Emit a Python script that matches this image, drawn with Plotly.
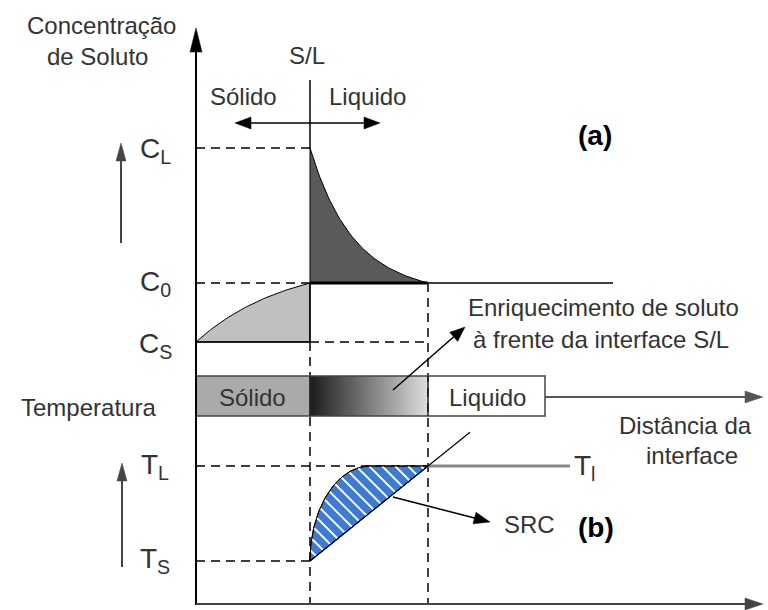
import numpy as np
import plotly.graph_objects as go

# ---- diagram values (pixel-like units, y grows downward) ----
x_axis = 196          # position of ordinate
x_interface = 310     # S/L interface
x_boundary = 428      # end of solute-enriched zone
x_end = 763           # tip of abscissa arrows

C_L = 148             # liquid concentration at interface
C_0 = 283             # nominal concentration
C_S = 342             # solid concentration
T_L = 466             # liquidus temperature
T_S = 561             # solidus temperature
y_bottom = 604        # abscissa position
bar_top, bar_bottom, bar_right = 376, 416, 545
x_flat_start = 370    # where the real temperature curve reaches T_L

FONT = "Liberation Sans, Arial, sans-serif"
TXT = "#333333"
FS = 24

fig = go.Figure()


def line(xs, ys, color="black", width=1.5, dash=None):
    fig.add_trace(go.Scatter(x=xs, y=ys, mode="lines",
                             line=dict(color=color, width=width, dash=dash),
                             hoverinfo="skip", showlegend=False))


def poly(xs, ys, fill, lc="black", lw=1.0):
    fig.add_trace(go.Scatter(x=list(xs) + [xs[0]], y=list(ys) + [ys[0]], mode="lines",
                             fill="toself", fillcolor=fill,
                             line=dict(color=lc, width=lw),
                             hoverinfo="skip", showlegend=False))


def head(tip, base, color="black", L=14, W=6):
    tx, ty = tip
    bx, by = base
    d = np.array([tx - bx, ty - by], float)
    d /= np.hypot(*d)
    n = np.array([-d[1], d[0]])
    b = np.array([tx, ty]) - d * L
    p1 = b + n * W
    p2 = b - n * W
    poly([tx, p1[0], p2[0]], [ty, p1[1], p2[1]], color, lc=color, lw=0.5)


def arrow(start, tip, color="black", width=1.5, L=14, W=6):
    sx, sy = start
    tx, ty = tip
    d = np.array([tx - sx, ty - sy], float)
    d /= np.hypot(*d)
    ex, ey = np.array([tx, ty]) - d * (L - 2)
    line([sx, ex], [sy, ey], color, width)
    head(tip, start, color, L, W)


def text(x, y, s, size=FS, anchor="center", bold=False, color=TXT):
    fig.add_annotation(x=x, y=y, text=("<b>%s</b>" % s) if bold else s,
                       showarrow=False, xanchor=anchor, yanchor="middle",
                       font=dict(family=FONT, size=size, color=color))


# ---- gradient in the enriched zone of the bar ----
n = 80
fig.add_trace(go.Heatmap(z=[np.linspace(0, 1, n)] * 2,
                         x0=x_interface + (x_boundary - x_interface) / n / 2,
                         dx=(x_boundary - x_interface) / n,
                         y0=bar_top + 10, dy=20,
                         colorscale=[[0, "#1c1c1c"], [1, "#dddddd"]],
                         showscale=False, hoverinfo="skip"))

# ---- (a) concentration profile ----
xs = np.linspace(x_axis, x_interface, 60)
k = 0.011
frac = (1 - np.exp(-k * (xs - x_axis))) / (1 - np.exp(-k * (x_interface - x_axis)))
ys = C_S - (C_S - C_0) * frac
poly(list(xs) + [x_interface], list(ys) + [C_S], "#c0c0c0")

xl = np.linspace(x_interface, x_boundary, 60)
k2 = 0.024
w = x_boundary - x_interface
e = np.exp(-k2 * (xl - x_interface)) - np.exp(-k2 * w) * (xl - x_interface) / w
yl = C_0 - (C_0 - C_L) * e
poly(list(xl) + [x_interface], list(yl) + [C_0], "#5a5a5a")

dash = "9px,6px"
line([x_axis, x_interface], [C_L, C_L], dash=dash)
line([x_axis, x_interface], [C_0, C_0], dash=dash)
line([x_interface, x_boundary], [C_S, C_S], dash=dash)
line([x_interface, x_interface], [C_S, y_bottom], dash=dash)
line([x_boundary, x_boundary], [C_0, y_bottom], dash=dash)
line([x_axis, x_interface], [C_S, C_S], width=1.5)
line([x_interface, x_interface], [C_0, C_S], width=1.5)

line([x_interface, x_boundary], [C_0, C_0], width=3)
line([x_boundary, 613], [C_0, C_0], width=1.5)

line([x_interface, x_interface], [80, C_L], width=1.5)
arrow((x_interface, 123), (235, 123), L=16, W=6)
arrow((x_interface, 123), (380, 123), L=16, W=6)

# ---- bar ----
poly([x_axis, x_interface, x_interface, x_axis], [bar_top, bar_top, bar_bottom, bar_bottom], "#aaaaaa", lc="#444444", lw=1.5)
line([x_interface, bar_right, bar_right, x_interface], [bar_top, bar_top, bar_bottom, bar_bottom], color="#444444", width=1.5)
line([x_interface, x_interface], [bar_top, bar_bottom], color="#222222", width=1.5)
line([x_boundary, x_boundary], [bar_top, bar_bottom], color="#222222", width=1.5)
arrow((bar_right, 397), (x_end, 397), color="#555555", width=2, L=18, W=6)

arrow((393, 390), (465, 327), L=15, W=6)

# ---- (b) temperature profile ----
line([x_axis, x_boundary], [T_L, T_L], dash=dash)
line([x_axis, x_interface], [T_S, T_S], dash=dash)
line([x_boundary, 570], [T_L, T_L], color="#888888", width=3)

th = np.linspace(0, np.pi / 2, 60)
cx = x_flat_start - (x_flat_start - x_interface) * np.cos(th)
cy = T_S - (T_S - T_L) * np.sin(th)
bx = list(cx) + [x_boundary]
by = list(cy) + [T_L]
poly(bx, by, "#3b7bd6")


def inside(px, py, vx, vy):
    vx = np.asarray(vx); vy = np.asarray(vy)
    res = np.zeros(px.shape, bool)
    j = len(vx) - 1
    for i in range(len(vx)):
        cond = ((vy[i] > py) != (vy[j] > py))
        xint = (vx[j] - vx[i]) * (py - vy[i]) / (vy[j] - vy[i] + 1e-12) + vx[i]
        res ^= cond & (px < xint)
        j = i
    return res

hx, hy = [], []
for c in np.arange(T_L - x_boundary - 6, T_S - x_interface + 10, 13):
    tx = np.arange(x_interface - 5, x_boundary + 5, 0.5)
    ty = tx + c
    m = inside(tx, ty, bx, by)
    for a, b_, ok in zip(tx, ty, m):
        hx.append(a if ok else None)
        hy.append(b_ if ok else None)
    hx.append(None); hy.append(None)
fig.add_trace(go.Scatter(x=hx, y=hy, mode="lines", line=dict(color="white", width=1.8),
                         hoverinfo="skip", showlegend=False, connectgaps=False))
poly(bx, by, "rgba(0,0,0,0)")

slope = (T_S - T_L) / (x_boundary - x_interface)
line([x_interface, 470], [T_S, T_S - slope * (470 - x_interface)], width=1.2)

arrow((393, 497), (490, 522), L=16, W=6)

# ---- axes ----
line([x_axis, x_axis], [y_bottom + 1, 40], width=2)
head((x_axis, 28), (x_axis, 100), L=24, W=6)
arrow((x_axis, y_bottom), (x_end, y_bottom), color="#444444", width=2, L=18, W=6)

arrow((121, 243), (121, 143), color="#444444", width=2, L=18, W=5)
arrow((122, 567), (122, 463), color="#444444", width=2, L=18, W=5)

# ---- labels ----
text(101, 25, "Concentração")
text(97, 56, "de Soluto")
text(307, 55, "S/L")
text(243, 96, "Sólido")
text(367, 96, "Liquido")
text(595, 135, "(a)", size=28, bold=True, color="black")
text(155, 150, "C<sub>L</sub>", size=28)
text(155, 283, "C<sub>0</sub>", size=28)
text(155, 345, "C<sub>S</sub>", size=28)
text(466, 307, "Enriquecimento de soluto", anchor="left")
text(471, 339, "à frente da interface S/L", anchor="left")
text(252, 397, "Sólido")
text(487, 397, "Liquido")
text(88, 407, "Temperatura")
text(617, 425, "Distância da", anchor="left")
text(692, 455, "interface")
text(155, 466, "T<sub>L</sub>", size=28)
text(155, 560, "T<sub>S</sub>", size=28)
text(584, 467, "T<sub>l</sub>", size=28)
text(502, 524, "SRC", anchor="left")
text(576, 527, "(b)", size=28, bold=True, color="black", anchor="left")

fig.update_layout(
    width=768, height=610,
    margin=dict(l=0, r=0, t=0, b=0),
    paper_bgcolor="white", plot_bgcolor="white",
    xaxis=dict(range=[0, 768], visible=False, fixedrange=True),
    yaxis=dict(range=[610, 0], visible=False, fixedrange=True),
    showlegend=False,
)
fig.write_html("out.html")
